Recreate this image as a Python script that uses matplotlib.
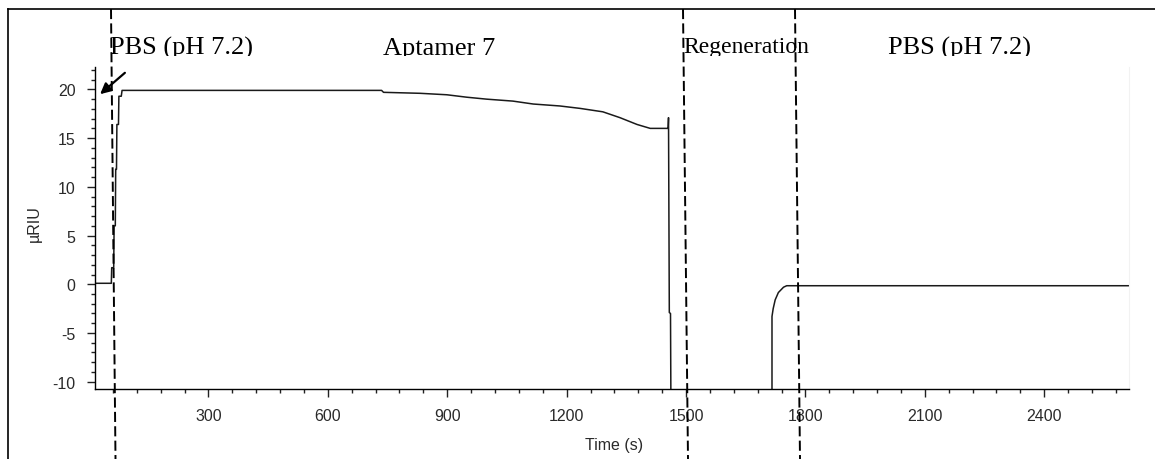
import numpy as np
import matplotlib.pyplot as plt
from matplotlib.lines import Line2D
from matplotlib.transforms import Bbox, TransformedBbox
from matplotlib.ticker import MultipleLocator

plt.rcParams['axes.unicode_minus'] = False

# sensorgram trace (time in s, signal in uRIU)
time_s = [15, 56, 57, 62, 63, 66, 67, 69, 70, 74, 75, 81, 83, 735, 740, 832, 899,
          949, 999, 1065, 1116, 1183, 1234, 1291, 1334, 1377, 1410, 1455, 1456,
          1458, 1461, 1462, 1716, 1716, 1719, 1724, 1732, 1745, 1753, 2613]
signal = [0.1, 0.1, 1.7, 1.7, 6.0, 6.0, 11.8, 11.8, 16.4, 16.4, 19.3, 19.3, 19.9,
          19.9, 19.7, 19.6, 19.45, 19.2, 19.0, 18.8, 18.5, 18.3, 18.05, 17.7,
          17.1, 16.4, 16.0, 16.0, 17.1, -2.9, -3.0, -12, -12, -3.3, -2.5, -1.6,
          -0.85, -0.3, -0.15, -0.15]

x_major = [300, 600, 900, 1200, 1500, 1800, 2100, 2400]
y_major = [-10, -5, 0, 5, 10, 15, 20]

phase_labels = ['PBS (pH 7.2)', 'Aptamer 7', 'Regeneration', 'PBS (pH 7.2)']

W, H = 1155, 460


def fx(x):
    return x / W


def fy(y):
    return 1 - y / H


fig = plt.figure(figsize=(W / 100, H / 100), dpi=100)
ax = fig.add_axes([fx(95), fy(390), (1129 - 95) / W, (390 - 68) / H])

ax.plot(time_s, signal, color='#1a1a1a', lw=1.1)
ax.set_xlim(15, 2613)
ax.set_ylim(-10.75, 22.3)

ax.set_xticks(x_major)
ax.set_yticks(y_major)
ax.xaxis.set_minor_locator(MultipleLocator(60))
ax.yaxis.set_minor_locator(MultipleLocator(1))
ax.tick_params(which='major', length=6, width=1, color='#222222',
               labelsize=11.5, labelcolor='#2a2a2a')
ax.tick_params(axis='x', which='major', pad=8)
ax.tick_params(axis='y', which='major', pad=8)
ax.tick_params(which='minor', length=3, width=1, color='#222222')
for lab in ax.get_xticklabels() + ax.get_yticklabels():
    lab.set_fontfamily('Liberation Sans')

ax.spines['top'].set_visible(False)
ax.spines['right'].set_color('#f2f2f2')
ax.spines['left'].set_linewidth(1)
ax.spines['bottom'].set_linewidth(1)

fig.text(fx(614), fy(446), 'Time (s)', ha='center', va='center', fontsize=11.5,
         color='#2a2a2a', family='Liberation Sans')
fig.text(fx(34), fy(224), '\u00b5RIU', ha='center', va='center', rotation=90,
         fontsize=11.5, color='#2a2a2a', family='Liberation Sans')

# outer frame
fig.add_artist(Line2D([fx(7.5), fx(7.5)], [fy(10), 0], transform=fig.transFigure,
                      color='black', lw=1.2))
fig.add_artist(Line2D([fx(7.5), 1], [fy(10), fy(10)], transform=fig.transFigure,
                      color='black', lw=1.2))

# phase labels, bottom clipped like the original
clip = TransformedBbox(Bbox([[0, fy(57)], [1, 1]]), fig.transFigure)
label_x = [110, 383, 683, 888]
label_size = [19, 19, 17, 19]
label_base = [55, 55, 53, 55]
for s, x, fs, yb in zip(phase_labels, label_x, label_size, label_base):
    t = fig.text(fx(x), fy(yb), s, ha='left', va='baseline', fontsize=fs,
                 family='Liberation Serif', color='black')
    t.set_clip_on(True)
    t.set_clip_box(clip)

# dashed phase boundaries (slightly slanted in the original)
dash_top = [111, 683, 795]
dash_bottom = [115.5, 688, 800]
for x0, x1 in zip(dash_top, dash_bottom):
    fig.add_artist(Line2D([fx(x0), fx(x1)], [fy(10), 0], transform=fig.transFigure,
                          color='black', lw=1.4, dashes=(5.2, 2.2), zorder=5))

ax.annotate('', xy=(98, H - 97), xytext=(127, H - 72), xycoords='figure pixels',
            textcoords='figure pixels', annotation_clip=False,
            arrowprops=dict(arrowstyle='-|>', color='black', lw=1.6,
                            mutation_scale=16))

fig.savefig('out.png', dpi=100)
